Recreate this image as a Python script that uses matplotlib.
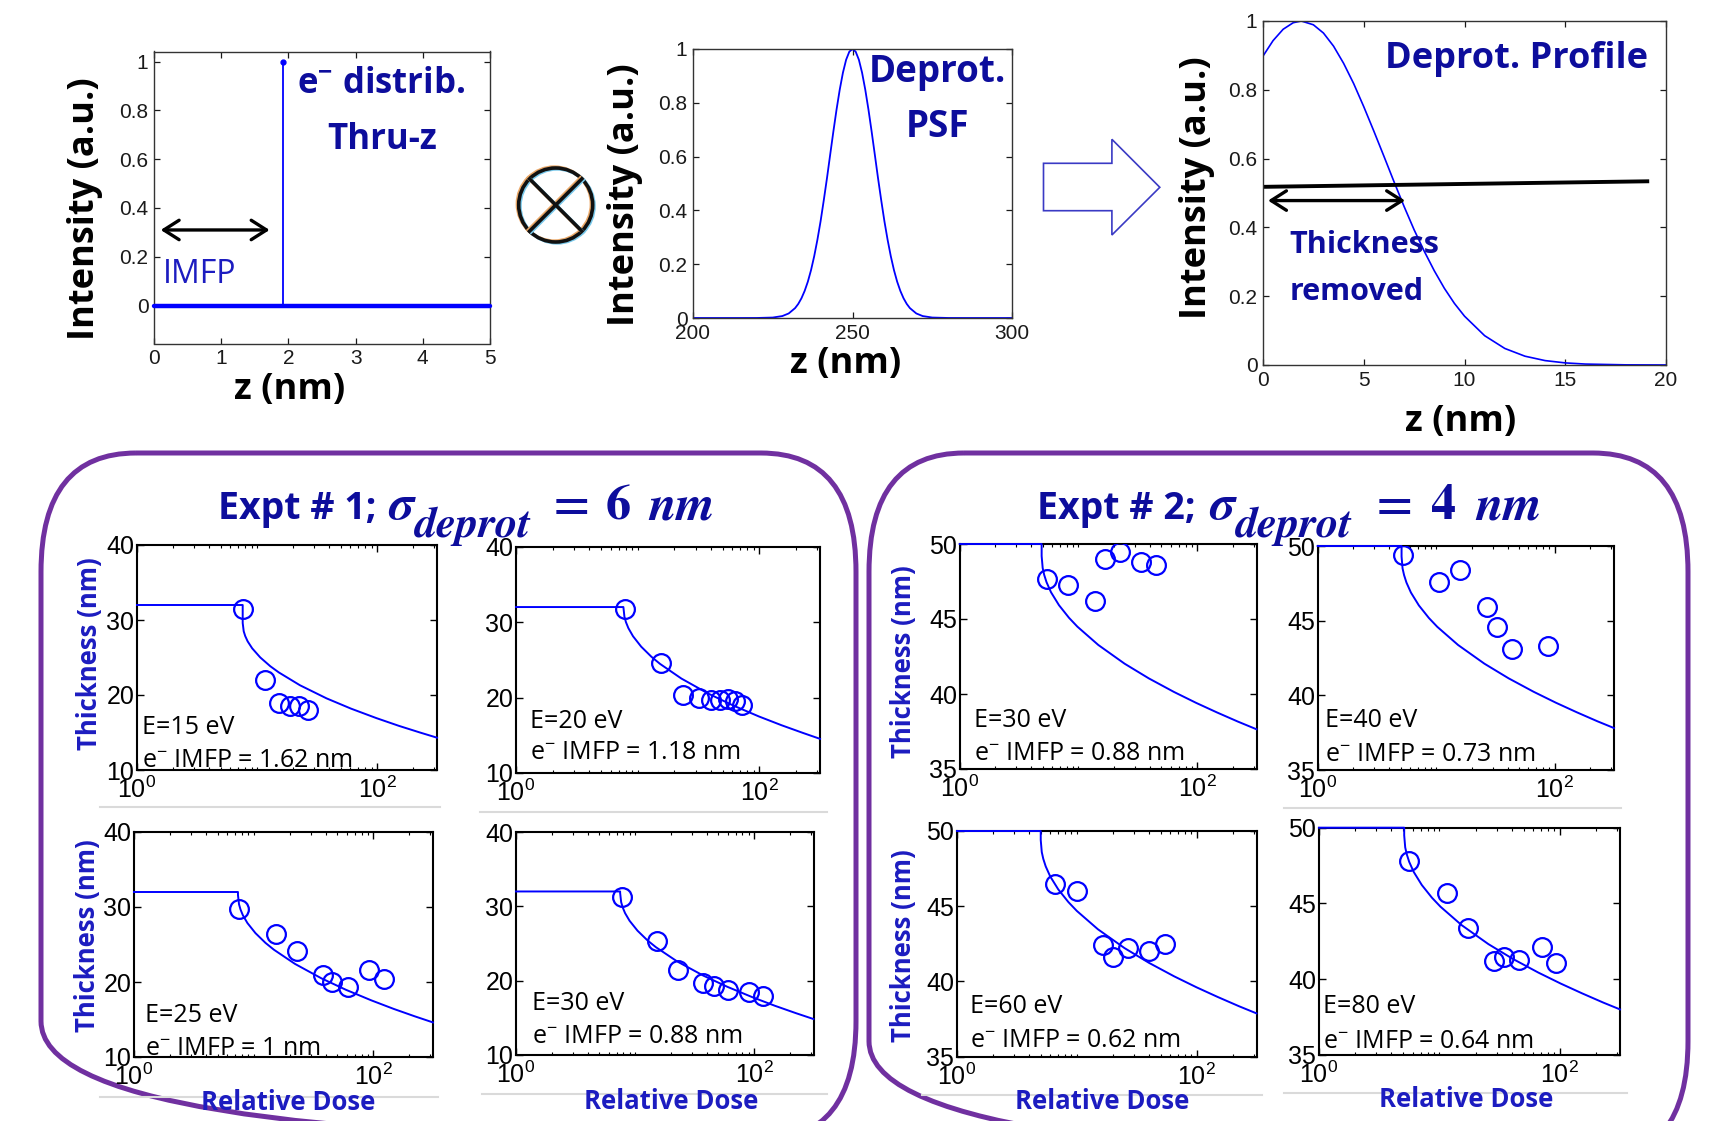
import numpy as np
import matplotlib
matplotlib.use("Agg")
import matplotlib.pyplot as plt
from matplotlib.patches import FancyBboxPatch, Circle, Polygon
from matplotlib.ticker import FixedLocator, FuncFormatter, NullFormatter, LogLocator

# ======================= DATA =======================
# --- top-left: electron distribution through z ---
edist_z = [0.0, 5.0]
edist_base = [0.0, 0.0]
edist_stem_z = [1.92, 1.92]
edist_stem_val = [0.0, 1.0]
imfp_arrow_z = [0.10, 1.72]
imfp_arrow_y = 0.31

# --- top-middle: deprotection PSF ---
psf_z = [200, 215, 220, 225, 228, 230, 232, 233, 234, 235, 236, 237, 238, 239, 240,
         241, 242, 243, 244, 245, 246, 247, 248, 249, 250, 251, 252, 253, 254, 255,
         256, 257, 258, 259, 260, 261, 262, 263, 264, 265, 266, 267, 268, 270, 272,
         275, 280, 285, 300]
psf_val = [0.0, 0.0, 0.0001, 0.0017, 0.0072, 0.0169, 0.0367, 0.0524, 0.0734, 0.1007,
           0.135, 0.178, 0.230, 0.291, 0.360, 0.438, 0.520, 0.607, 0.693, 0.775,
           0.849, 0.912, 0.960, 0.990, 1.0, 0.990, 0.960, 0.912, 0.849, 0.775,
           0.693, 0.607, 0.520, 0.438, 0.360, 0.291, 0.230, 0.178, 0.135, 0.1007,
           0.0734, 0.0524, 0.0367, 0.0169, 0.0072, 0.0017, 0.0001, 0.0, 0.0]

# --- top-right: deprotection profile ---
prof_z = [0, 0.5, 1, 1.5, 1.9, 2.5, 3, 3.5, 4, 4.5, 5, 5.5, 6, 6.5, 7, 7.5, 8, 8.5,
          9, 9.5, 10, 11, 12, 13, 14, 15, 16, 18, 20]
prof_val = [0.898, 0.943, 0.976, 0.995, 1.0, 0.989, 0.965, 0.927, 0.877, 0.818, 0.751,
            0.680, 0.607, 0.533, 0.461, 0.393, 0.331, 0.274, 0.223, 0.179, 0.142,
            0.0852, 0.0481, 0.0256, 0.0128, 0.0061, 0.0027, 0.00045, 0.00006]
thr_z = [0.1, 19.07]
thr_val = [0.518, 0.534]
removed_arrow_z = [0.25, 7.05]
removed_arrow_y = 0.478

# --- bottom panels: measured thickness (circles) ---
p1_dose = [7.6, 11.7, 15.2, 18.8, 22.5, 26.8]
p1_thk = [31.5, 22.0, 19.0, 18.6, 18.6, 18.0]
p2_dose = [7.9, 15.7, 23.7, 31.8, 39.8, 47.3, 55.4, 62.9, 72.6]
p2_thk = [31.7, 24.6, 20.4, 19.9, 19.7, 19.7, 19.8, 19.6, 19.0]
p3_dose = [7.6, 15.3, 23.0, 38.0, 45.0, 61.5, 92.5, 123]
p3_thk = [29.8, 26.4, 24.2, 20.9, 20.0, 19.3, 21.6, 20.4]
p4_dose = [7.8, 15.3, 23.0, 37.6, 45.8, 61.0, 91.0, 120]
p4_thk = [31.2, 25.4, 21.4, 19.7, 19.3, 18.8, 18.5, 18.0]
p5_dose = [5.4, 8.2, 13.8, 16.6, 22.6, 33.4, 44.6]
p5_thk = [47.7, 47.3, 46.2, 49.0, 49.5, 48.8, 48.6]
p6_dose = [5.25, 10.5, 16.0, 27.0, 32.3, 43.3, 87.5]
p6_thk = [49.4, 47.6, 48.4, 45.9, 44.6, 43.1, 43.3]
p7_dose = [6.55, 10.0, 16.7, 20.1, 27.0, 40.4, 55.0]
p7_thk = [46.5, 46.0, 42.4, 41.6, 42.2, 42.0, 42.5]
p8_dose = [5.6, 11.5, 17.2, 28.5, 34.5, 46.0, 71.0, 93.0]
p8_thk = [47.8, 45.7, 43.4, 41.2, 41.5, 41.3, 42.1, 41.1]

# --- bottom panels: model curves (lines) ---
p1_mdose = [1, 7.6, 7.6, 7.75, 7.98, 8.36, 9.12, 10.64, 12.92, 15.2, 22.8, 38, 60.8, 98.8, 152, 228, 316]
p1_mthk = [32, 32, 29.60, 28.49, 27.85, 27.15, 26.22, 25.01, 23.83, 23.01, 21.30, 19.55, 18.18, 16.92, 15.89, 15.00, 14.31]
p2_mdose = [1, 7.64, 7.79, 8.02, 8.40, 9.17, 10.70, 12.99, 15.28, 22.92, 38.2, 61.1, 99.3, 152.8, 229.2, 316]
p2_mthk = [32, 32.00, 30.73, 30.00, 29.20, 28.13, 26.75, 25.41, 24.47, 22.52, 20.52, 18.95, 17.50, 16.33, 15.31, 14.53]
p3_mdose = [1, 7.4, 7.4, 7.55, 7.77, 8.14, 8.88, 10.36, 12.58, 14.8, 22.2, 37, 59.2, 96.2, 148, 222, 316]
p3_mthk = [32, 32, 31.60, 30.37, 29.67, 28.89, 27.86, 26.52, 25.21, 24.30, 22.41, 20.48, 18.96, 17.56, 16.42, 15.43, 14.61]
p4_mdose = [1, 7.5, 7.5, 7.65, 7.875, 8.25, 9.0, 10.5, 12.75, 15.0, 22.5, 37.5, 60, 97.5, 150, 225, 316]
p4_mthk = [32, 32, 31.80, 30.57, 29.87, 29.09, 28.06, 26.72, 25.41, 24.50, 22.61, 20.68, 19.16, 17.76, 16.62, 15.63, 14.84]
p5_mdose = [1, 4.9, 4.9, 5.0, 5.145, 5.39, 5.88, 6.86, 8.33, 9.8, 14.7, 24.5, 39.2, 63.7, 98, 147, 220.5, 316]
p5_mthk = [50, 50, 49.20, 48.40, 47.95, 47.45, 46.78, 45.92, 45.08, 44.49, 43.27, 42.02, 41.04, 40.14, 39.41, 38.77, 38.16, 37.65]
p6_mdose = [1, 5.1, 5.1, 5.2, 5.355, 5.61, 6.12, 7.14, 8.67, 10.2, 15.3, 25.5, 40.8, 66.3, 102, 153, 229.5, 316]
p6_mthk = [50, 50, 49.30, 48.50, 48.05, 47.55, 46.88, 46.02, 45.18, 44.59, 43.37, 42.12, 41.14, 40.24, 39.51, 38.87, 38.26, 37.81]
p7_mdose = [1, 5.0, 5.0, 5.1, 5.25, 5.5, 6.0, 7.0, 8.5, 10, 15, 25, 40, 65, 100, 150, 225, 316]
p7_mthk = [50, 50, 49.40, 48.60, 48.15, 47.65, 46.98, 46.12, 45.28, 44.69, 43.47, 42.22, 41.24, 40.34, 39.61, 38.97, 38.36, 37.88]
p8_mdose = [1, 5.1, 5.1, 5.2, 5.355, 5.61, 6.12, 7.14, 8.67, 10.2, 15.3, 25.5, 40.8, 66.3, 102, 153, 229.5, 316]
p8_mthk = [50, 50, 49.50, 48.70, 48.25, 47.75, 47.08, 46.22, 45.38, 44.79, 43.57, 42.32, 41.34, 40.44, 39.71, 39.07, 38.46, 38.01]

energy_labels = ["E=15 eV", "E=20 eV", "E=25 eV", "E=30 eV",
                 "E=30 eV", "E=40 eV", "E=60 eV", "E=80 eV"]
imfp_labels = [r"e$^{-}$ IMFP = 1.62 nm", r"e$^{-}$ IMFP = 1.18 nm", r"e$^{-}$ IMFP = 1 nm",
               r"e$^{-}$ IMFP = 0.88 nm", r"e$^{-}$ IMFP = 0.88 nm", r"e$^{-}$ IMFP = 0.73 nm",
               r"e$^{-}$ IMFP = 0.62 nm", r"e$^{-}$ IMFP = 0.64 nm"]
expt_titles = [("Expt # 1;", "6"), ("Expt # 2;", "4")]
expt1_yticks = [10, 20, 30, 40]
expt2_yticks = [35, 40, 45, 50]
log_ticks = [1, 100]

# ======================= STYLE =======================
NAVY = '#0d0d9c'
BLUE_T = '#1c1cc0'
LINE_B = '#0000ff'
PURPLE = '#7030a0'
SANS = ['Open Sans', 'DejaVu Sans']
STIX = ['STIXGeneral', 'DejaVu Serif']

plt.rcParams['font.family'] = ['Liberation Sans', 'DejaVu Sans']
plt.rcParams['mathtext.fontset'] = 'custom'
plt.rcParams['mathtext.rm'] = 'Liberation Sans'
plt.rcParams['mathtext.it'] = 'Liberation Sans:italic'
plt.rcParams['mathtext.bf'] = 'Liberation Sans:bold'

W, H = 1723, 1121
fig = plt.figure(figsize=(W / 100, H / 100), dpi=100)
fig.patch.set_facecolor('white')
renderer = fig.canvas.get_renderer()


def add_px(l, r, t, b, **kw):
    return fig.add_axes([l / W, 1 - b / H, (r - l) / W, (b - t) / H], **kw)


# ---------- background layer (boxes, symbols, titles) ----------
bg = fig.add_axes([0, 0, 1, 1], zorder=-10)
bg.set_xlim(0, W)
bg.set_ylim(H, 0)
bg.axis('off')

for (x0, x1, y0, y1) in [(41, 856, 453, 1140), (869, 1688, 453, 1160)]:
    bg.add_patch(FancyBboxPatch((x0, y0), x1 - x0, y1 - y0,
                                boxstyle='round,pad=0,rounding_size=95',
                                mutation_aspect=1.25, fill=False,
                                ec=PURPLE, lw=3.6))

# faint grey strips below the panel rows
for (xa, xb, yy) in [(100, 440, 807), (480, 827, 812), (1284, 1621, 808),
                     (100, 438, 1097), (482, 827, 1094), (922, 1262, 1095),
                     (1284, 1627, 1093)]:
    bg.plot([xa, xb], [yy, yy], color='#dadada', lw=1.5)

# convolution symbol
cx, cy, R = 555.7, 205.0, 37.0
d = R * 0.7071
for dx, dy, col, lw in [(-1.4, -1.0, '#eaa868', 2.4), (1.4, 1.0, '#78c8ea', 2.4),
                        (0, 0, '#111111', 2.6)]:
    bg.add_patch(Circle((cx + dx, cy + dy), R, fill=False, ec=col, lw=lw))
    bg.plot([cx - d + dx, cx + d + dx], [cy - d + dy, cy + d + dy], color=col, lw=lw)
    bg.plot([cx - d + dx, cx + d + dx], [cy + d + dy, cy - d + dy], color=col, lw=lw)

# hollow block arrow
bg.add_patch(Polygon([(1043.5, 163.3), (1111.9, 163.3), (1111.9, 139.3), (1159.8, 187.3),
                      (1111.9, 235.0), (1111.9, 210.7), (1043.5, 210.7)],
                     closed=True, fc='white', ec='#3a3ac4', lw=1.2))


# experiment titles: pieces packed by measured width, gaps stretched to target width
def compose_title(start_x, target_w, baseline, head, sig):
    pieces = [(head, dict(family=SANS, weight='bold', size=27), 0, 0),
              ("\u03c3", dict(family=STIX, style='italic', weight='bold', size=36), 0, 9),
              ("deprot", dict(family=STIX, style='italic', weight='bold', size=32), 18, 1),
              ("=", dict(family=STIX, weight='bold', size=36), 0, 16),
              (sig, dict(family=STIX, weight='bold', size=36), 0, 12),
              ("nm", dict(family=STIX, style='italic', weight='bold', size=36), 0, 13)]
    objs = []
    for s, props, dy, gap in pieces:
        t = bg.text(0, baseline + dy, s, ha='left', va='baseline', color=NAVY, **props)
        objs.append((t, gap))
    widths = [t.get_window_extent(renderer).width for t, _ in objs]
    gsum = sum(g for _, g in objs)
    scale = max(0.5, (target_w - sum(widths)) / gsum)
    x = start_x
    for (t, g), w in zip(objs, widths):
        x += g * scale
        t.set_x(x)
        x += w


compose_title(218, 497, 519, *expt_titles[0])
compose_title(1037, 505, 519, *expt_titles[1])


def style_top(ax):
    for s in ax.spines.values():
        s.set_linewidth(1.0)
        s.set_color('#333333')
    ax.tick_params(direction='in', top=True, right=True, length=4, width=0.9,
                   labelsize=15, pad=4, colors='#1a1a1a')
    ax.xaxis.set_major_formatter(FuncFormatter(lambda v, p: '%g' % v))
    ax.yaxis.set_major_formatter(FuncFormatter(lambda v, p: '%g' % v))


def place_labels(ax, xl, xpos, yl, ypos, size, color='black', weight='bold'):
    if xl:
        ax.set_xlabel(xl, fontsize=size, fontweight=weight, family=SANS, color=color)
        ax.xaxis.label.set_va('center')
        ax.xaxis.set_label_coords(*xpos)
    if yl:
        ax.set_ylabel(yl, fontsize=size, fontweight=weight, family=SANS, color=color)
        ax.yaxis.label.set_va('center')
        ax.yaxis.set_label_coords(*ypos)


arrow_kw = dict(arrowstyle='<->,head_length=0.55,head_width=0.35', lw=2.4,
                color='black', shrinkA=0, shrinkB=0, mutation_scale=20)

# ---------- top-left ----------
ax1 = add_px(154, 490, 51.5, 343.5)
ax1.plot(edist_z, edist_base, color=LINE_B, lw=3.2, solid_capstyle='round',
         clip_on=False, zorder=3)
ax1.plot(edist_stem_z, edist_stem_val, color=LINE_B, lw=1.3)
ax1.plot(edist_stem_z[1:], edist_stem_val[1:], 'o', color=LINE_B, ms=3.5)
ax1.annotate('', xy=(imfp_arrow_z[1], imfp_arrow_y),
             xytext=(imfp_arrow_z[0], imfp_arrow_y), arrowprops=arrow_kw)
ax1.set_xlim(0, 5)
ax1.set_ylim(-0.155, 1.041)
ax1.set_xticks([0, 1, 2, 3, 4, 5])
ax1.set_yticks([0, 0.2, 0.4, 0.6, 0.8, 1.0])
style_top(ax1)
ax1.text(3.38, 0.869, r"e$^{\mathbf{-}}$ distrib.", ha='center', va='baseline', fontsize=25,
         fontweight='bold', family=SANS, color=NAVY)
ax1.text(3.40, 0.642, "Thru-z", ha='center', va='baseline', fontsize=25,
         fontweight='bold', family=SANS, color=NAVY)
ax1.text(0.138, 0.092, "IMFP", ha='left', va='baseline', fontsize=23,
         family=SANS, color=BLUE_T)
place_labels(ax1, "z (nm)", (0.405, -0.160), "Intensity (a.u.)", (-0.205, 0.461), 26)

# ---------- top-middle ----------
ax2 = add_px(693, 1012, 49, 318)
ax2.plot(psf_z, psf_val, color=LINE_B, lw=1.3)
ax2.set_xlim(200, 300)
ax2.set_ylim(0, 1)
ax2.set_xticks([200, 250, 300])
ax2.set_yticks([0, 0.2, 0.4, 0.6, 0.8, 1.0])
style_top(ax2)
ax2.text(276.6, 0.878, "Deprot.", ha='center', va='baseline', fontsize=26.5,
         fontweight='bold', family=SANS, color=NAVY)
ax2.text(276.6, 0.674, "PSF", ha='center', va='baseline', fontsize=26.5,
         fontweight='bold', family=SANS, color=NAVY)
place_labels(ax2, "z (nm)", (0.48, -0.171), "Intensity (a.u.)", (-0.213, 0.457), 26)

# ---------- top-right ----------
ax3 = add_px(1263, 1666, 21, 365)
ax3.plot(prof_z, prof_val, color=LINE_B, lw=1.2)
ax3.plot(thr_z, thr_val, color='black', lw=2.8)
ax3.annotate('', xy=(removed_arrow_z[1], removed_arrow_y),
             xytext=(removed_arrow_z[0], removed_arrow_y), arrowprops=arrow_kw)
ax3.set_xlim(0, 20)
ax3.set_ylim(0, 1)
ax3.set_xticks([0, 5, 10, 15, 20])
ax3.set_yticks([0, 0.2, 0.4, 0.6, 0.8, 1.0])
style_top(ax3)
ax3.text(12.6, 0.8625, "Deprot. Profile", ha='center', va='baseline', fontsize=26,
         fontweight='bold', family=SANS, color=NAVY)
ax3.text(1.30, 0.325, "Thickness", ha='left', va='baseline', fontsize=22,
         fontweight='bold', family=SANS, color=NAVY)
ax3.text(1.30, 0.189, "removed", ha='left', va='baseline', fontsize=22,
         fontweight='bold', family=SANS, color=NAVY)
place_labels(ax3, "z (nm)", (0.491, -0.166), "Intensity (a.u.)", (-0.164, 0.516), 26)

# ---------- bottom panels ----------
geo = [(137, 437, 545, 770), (516, 820, 546.7, 773), (134, 433, 832, 1057),
       (516, 813.5, 832, 1055), (959.7, 1256.5, 544, 769), (1317.7, 1614, 546, 770),
       (957, 1256.5, 831, 1056.7), (1319, 1620, 827.7, 1055)]
meas = [(p1_dose, p1_thk), (p2_dose, p2_thk), (p3_dose, p3_thk), (p4_dose, p4_thk),
        (p5_dose, p5_thk), (p6_dose, p6_thk), (p7_dose, p7_thk), (p8_dose, p8_thk)]
model = [(p1_mdose, p1_mthk), (p2_mdose, p2_mthk), (p3_mdose, p3_mthk),
         (p4_mdose, p4_mthk), (p5_mdose, p5_mthk), (p6_mdose, p6_mthk),
         (p7_mdose, p7_mthk), (p8_mdose, p8_mthk)]
txt_pos = [(0.016, 0.16, 0.015), (0.046, 0.20, 0.06), (0.037, 0.157, 0.009),
           (0.054, 0.20, 0.052), (0.047, 0.188, 0.04), (0.023, 0.193, 0.041),
           (0.042, 0.192, 0.044), (0.013, 0.184, 0.03)]
ylab_pos = {0: (-0.16, 0.516), 2: (-0.154, 0.538), 4: (-0.191, 0.476), 6: (-0.18, 0.49)}
xlab_pos = {2: (0.515, -0.2), 3: (0.521, -0.21), 6: (0.484, -0.2), 7: (0.488, -0.194)}

for i in range(8):
    ax = add_px(*geo[i])
    md, mt = model[i]
    ax.plot(md, mt, color=LINE_B, lw=1.4, zorder=3, clip_on=False)
    dd, tt = meas[i]
    ax.plot(dd, tt, 'o', mfc='none', mec=LINE_B, mew=1.6, ms=13.5, zorder=4)
    ax.set_xscale('log')
    ax.set_xlim(1, 10 ** 2.5)
    if i < 4:
        ax.set_ylim(10, 40)
        ax.set_yticks(expt1_yticks)
    else:
        ax.set_ylim(35, 50)
        ax.set_yticks(expt2_yticks)
    ax.xaxis.set_major_locator(FixedLocator(log_ticks))
    ax.xaxis.set_minor_locator(LogLocator(base=10, subs=np.arange(1, 10), numticks=10))
    ax.xaxis.set_minor_formatter(NullFormatter())
    ax.xaxis.set_major_formatter(FuncFormatter(
        lambda v, p: r'$\mathregular{10^{%d}}$' % int(round(np.log10(v)))))
    for s in ax.spines.values():
        s.set_linewidth(1.5)
        s.set_color('black')
    ax.tick_params(which='both', direction='in', top=True, right=True, colors='black')
    ax.tick_params(which='major', length=5, width=1.0, labelsize=18)
    ax.tick_params(axis='x', which='major', pad=5)
    ax.tick_params(axis='y', which='major', pad=2)
    ax.tick_params(which='minor', length=2.5, width=0.8)
    tx, ye, yi = txt_pos[i]
    ax.text(tx, ye, energy_labels[i], transform=ax.transAxes, ha='left', va='baseline',
            fontsize=18, family=SANS, color='black')
    ax.text(tx, yi, imfp_labels[i], transform=ax.transAxes, ha='left', va='baseline',
            fontsize=18, family=SANS, color='black')
    if i in ylab_pos:
        place_labels(ax, None, None, "Thickness (nm)", ylab_pos[i], 18.5, color=BLUE_T)
    if i in xlab_pos:
        place_labels(ax, "Relative Dose", xlab_pos[i], None, None, 18.5, color=BLUE_T)

fig.savefig('out.png', dpi=100, facecolor='white')
